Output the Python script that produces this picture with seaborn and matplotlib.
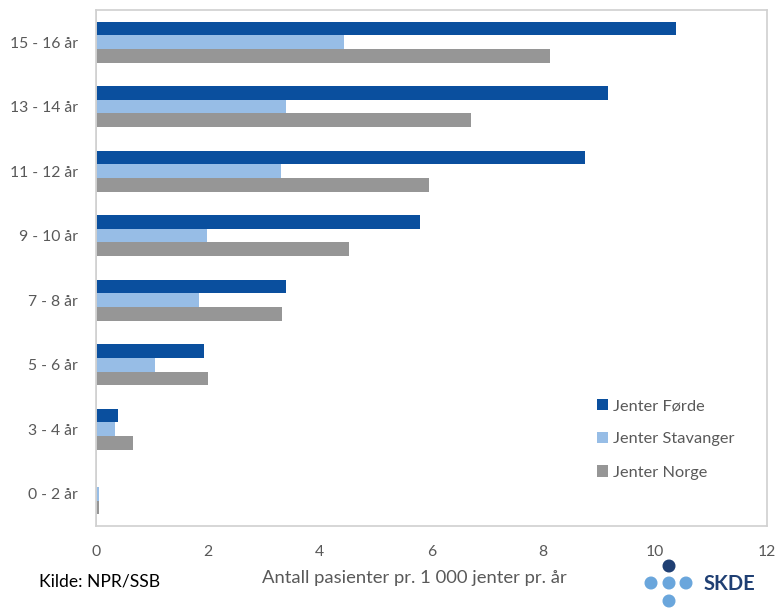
import matplotlib
matplotlib.use("Agg")
import matplotlib.pyplot as plt
import seaborn as sns
import pandas as pd
from matplotlib.patches import Circle

# Age groups (top to bottom) and rates per 1 000 girls per year
age_groups = ["15 - 16 år", "13 - 14 år", "11 - 12 år", "9 - 10 år",
              "7 - 8 år", "5 - 6 år", "3 - 4 år", "0 - 2 år"]
forde = [10.37, 9.15, 8.74, 5.80, 3.40, 1.93, 0.39, 0.0]
stavanger = [4.44, 3.39, 3.30, 1.99, 1.84, 1.06, 0.34, 0.05]
norge = [8.13, 6.70, 5.95, 4.53, 3.33, 2.01, 0.66, 0.05]
series_names = ["Jenter Førde", "Jenter Stavanger", "Jenter Norge"]
series_colors = ["#0a4f9e", "#97bde6", "#969696"]
x_ticks = [0, 2, 4, 6, 8, 10, 12]

df = pd.DataFrame({
    "Alder": age_groups * 3,
    "Rate": forde + stavanger + norge,
    "Serie": [series_names[0]] * 8 + [series_names[1]] * 8 + [series_names[2]] * 8,
})

sns.set_theme(style="white")
plt.rcParams["font.family"] = ["Lato", "DejaVu Sans"]

fig = plt.figure(figsize=(7.77, 6.08), dpi=100)
ax = fig.add_axes([0.1236, 0.1349, 0.8633, 0.8487])

sns.barplot(data=df, y="Alder", x="Rate", hue="Serie", order=age_groups,
            hue_order=series_names, palette=series_colors, orient="y",
            width=0.63, saturation=1, errorbar=None, linewidth=0, ax=ax)

ax.set_xlim(0, 12)
ax.set_ylim(7.5, -0.5)
ax.set_xticks(x_ticks)
ax.set_xticklabels([str(t) for t in x_ticks])
ax.set_xlabel("")
ax.set_ylabel("")
ax.tick_params(axis="both", length=0, labelsize=11.3, labelcolor="#595959")
ax.tick_params(axis="x", pad=14)
ax.tick_params(axis="y", pad=13)
for s in ax.spines.values():
    s.set_visible(True)
    s.set_color("#d0d0d0")
    s.set_linewidth(1.2)
ax.axvline(0, color="#d0d0d0", lw=1.2)

leg = ax.legend(loc="lower right", bbox_to_anchor=(0.962, 0.077), frameon=False,
                fontsize=11.8, handlelength=0.7, handleheight=0.7,
                handletextpad=0.3, labelspacing=1.15, borderaxespad=0)
for t in leg.get_texts():
    t.set_color("#595959")

fig.text(0.533, 0.050, "Antall pasienter pr. 1 000 jenter pr. år",
         ha="center", va="center", fontsize=13.3, color="#595959")
fig.text(0.05, 0.044, "Kilde: NPR/SSB", ha="left", va="center",
         fontsize=12.6, color="#000000")

# SKDE logo: cross of dots with the wordmark
logo_ax = fig.add_axes([0, 0, 1, 1], facecolor="none")
logo_ax.set_xlim(0, 777)
logo_ax.set_ylim(608, 0)
logo_ax.axis("off")
logo_ax.add_patch(Circle((669, 566), 5.8, color="#1f3f73"))
for cx, cy in [(651, 583), (669, 583), (686, 583), (669, 601)]:
    logo_ax.add_patch(Circle((cx, cy), 5.8, color="#6aa6dc"))
logo_ax.text(704, 584, "SKDE", ha="left", va="center", fontsize=14.5,
             fontweight="bold", color="#1f3f73")

fig.savefig("out.png", dpi=100)
